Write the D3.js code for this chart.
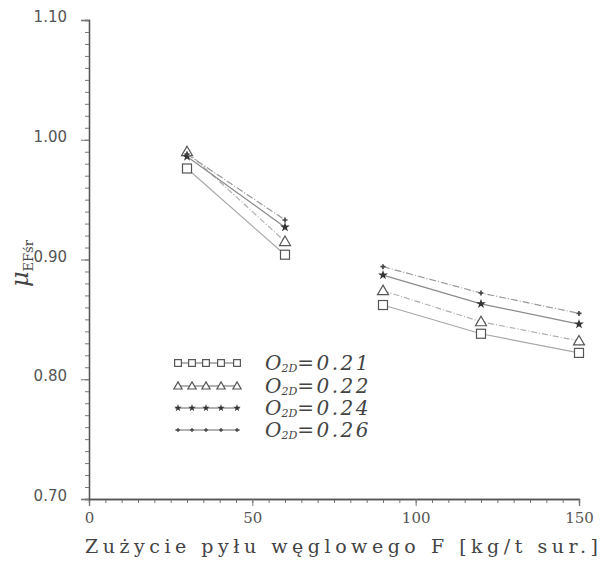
<!DOCTYPE html>
<html>
<head>
<meta charset="utf-8">
<script src="https://cdn.jsdelivr.net/npm/d3@7"></script>
<style>
  body { margin: 0; background: #fff; }
  svg { display: block; }
</style>
</head>
<body>
<div id="chart"></div>
<script>
// === data ===
var xValues = [30, 60, 90, 120, 150];
var segment = [0, 0, 1, 1, 1];          // no line between 60 and 90
var o2dLabels = ["0.21", "0.22", "0.24", "0.26"];
var mu021 = [0.976, 0.904, 0.862, 0.838, 0.822];
var mu022 = [0.990, 0.915, 0.874, 0.848, 0.832];
var mu024 = [0.986, 0.927, 0.887, 0.863, 0.846];
var mu026 = [0.988, 0.933, 0.894, 0.872, 0.855];
var xTicks = [0, 50, 100, 150];
var yTicks = [0.70, 0.80, 0.90, 1.00, 1.10];

var series = [mu021, mu022, mu024, mu026];
var markers = ["square", "triangle", "star", "plus"];
var lineColor = ["#a8a8a8", "#b0b0b0", "#8a8a8a", "#999"];
var lineDash = [null, "6,2,1,2", null, "7,2,1,2"];

var W = 607, H = 561;
var svg = d3.select("#chart").append("svg").attr("width", W).attr("height", H);

var x = d3.scaleLinear().domain([0, 150]).range([89, 579]);
var y = d3.scaleLinear().domain([0.70, 1.10]).range([499, 20]);

var axisColor = "#555";

// === axes ===
var gx = svg.append("g").attr("transform", "translate(0," + y(0.70) + ")");
gx.call(d3.axisBottom(x).tickValues(d3.range(0, 151, 5)).tickSize(4).tickFormat(""));
var gxMajor = svg.append("g").attr("transform", "translate(0," + y(0.70) + ")")
    .call(d3.axisBottom(x).tickValues(xTicks).tickSize(7).tickPadding(6).tickFormat(d3.format("d")));

var gy = svg.append("g").attr("transform", "translate(" + x(0) + ",0)");
gy.call(d3.axisLeft(y).tickValues(d3.range(70, 111).map(function (d) { return d / 100; })).tickSize(4).tickFormat(""));
var gyMajor = svg.append("g").attr("transform", "translate(" + x(0) + ",0)")
    .call(d3.axisLeft(y).tickValues(yTicks).tickSize(8).tickPadding(14).tickFormat(d3.format(".2f")));

svg.selectAll(".domain").attr("stroke", axisColor).attr("stroke-width", 1.3);
svg.selectAll(".tick line").attr("stroke", "#777");
gxMajor.selectAll(".tick text")
    .attr("font-family", "DejaVu Serif, serif").attr("font-size", 15).attr("fill", "#555");
gyMajor.selectAll(".tick text")
    .attr("font-family", "DejaVu Sans, sans-serif").attr("font-size", 15).attr("fill", "#555")
    .attr("dy", "0.1em");

// axis titles
svg.append("text")
    .attr("x", 85).attr("y", 553)
    .attr("font-family", "DejaVu Serif, serif").attr("font-size", 19).attr("fill", "#444")
    .attr("textLength", 513).attr("lengthAdjust", "spacing")
    .text("Zużycie pyłu węglowego F [kg/t sur.]");

var yl = svg.append("text")
    .attr("transform", "translate(28,287) rotate(-90)")
    .attr("font-family", "DejaVu Serif, serif").attr("fill", "#444");
yl.append("tspan").attr("font-size", 24).attr("font-style", "italic").text("μ");
yl.append("tspan").attr("font-size", 13).attr("dy", 5).text("EFśr");

// === marker drawing ===
function drawMarker(g, type, cx, cy, k) {
    k = k || 1;
    if (type == "square") {
        var h = 4.5 * k;
        g.append("rect").attr("x", cx - h).attr("y", cy - h).attr("width", 2 * h).attr("height", 2 * h)
            .attr("fill", "#fff").attr("stroke", "#555").attr("stroke-width", 1.2);
    } else if (type == "triangle") {
        var a = 5.5 * k, b = 4 * k;
        g.append("path").attr("d", "M" + cx + "," + (cy - a) + "L" + (cx + a) + "," + (cy + b) + "L" + (cx - a) + "," + (cy + b) + "Z")
            .attr("fill", "#fff").attr("stroke", "#555").attr("stroke-width", 1.2);
    } else if (type == "star") {
        g.append("path").attr("d", d3.symbol().type(d3.symbolStar).size(30 * k * k)())
            .attr("transform", "translate(" + cx + "," + cy + ")")
            .attr("fill", "#333");
    } else {
        g.append("path").attr("d", d3.symbol().type(d3.symbolCross).size(14 * k * k)())
            .attr("transform", "translate(" + cx + "," + cy + ")")
            .attr("fill", "#444");
    }
}

var line = d3.line().x(function (d) { return x(d.x); }).y(function (d) { return y(d.y); });

series.forEach(function (vals, s) {
    var pts = xValues.map(function (xv, i) { return { x: xv, y: vals[i], seg: segment[i] }; });
    [0, 1].forEach(function (sg) {
        svg.append("path")
            .datum(pts.filter(function (p) { return p.seg == sg; }))
            .attr("d", line)
            .attr("fill", "none")
            .attr("stroke", lineColor[s])
            .attr("stroke-width", 1.2)
            .attr("stroke-dasharray", lineDash[s]);
    });
    var g = svg.append("g");
    pts.forEach(function (p) { drawMarker(g, markers[s], x(p.x), y(p.y)); });
});

// === legend ===
var legY = [363, 386, 408, 430];
o2dLabels.forEach(function (lab, s) {
    var g = svg.append("g");
    var ly = legY[s];
    g.append("line").attr("x1", 175).attr("x2", 240).attr("y1", ly).attr("y2", ly)
        .attr("stroke", "#666").attr("stroke-width", 1.2);
    [178, 192, 206, 221, 237].forEach(function (lx) {
        drawMarker(g, markers[s], lx, ly, 0.75);
    });
    var t = g.append("text").attr("x", 265).attr("y", ly + 7)
        .attr("font-family", "DejaVu Serif, serif").attr("font-style", "italic")
        .attr("fill", "#444");
    t.append("tspan").attr("font-size", 20).text("O");
    t.append("tspan").attr("font-size", 11).attr("dy", 2).text("2D");
    t.append("tspan").attr("font-size", 20).attr("dy", -2).attr("letter-spacing", 2.5).text("=" + lab);
});
</script>
</body>
</html>
